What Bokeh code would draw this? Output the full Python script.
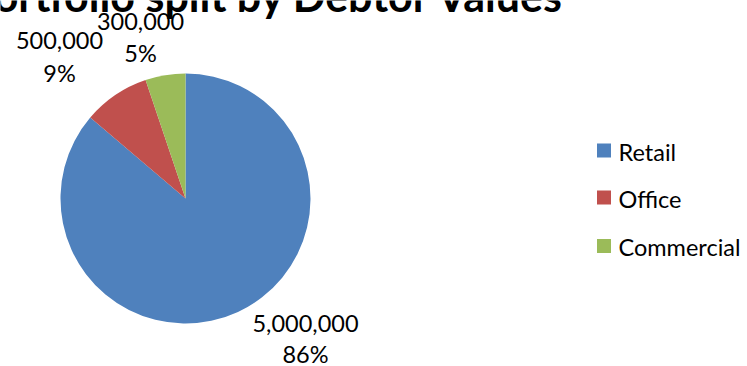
import math
from bokeh.plotting import figure
from bokeh.models import Range1d, ColumnDataSource
from bokeh.core.properties import value
from bokeh.embed import file_html
from bokeh.resources import INLINE

# ---- data ----
categories = ["Retail", "Office", "Commercial"]
amounts = [5000000, 500000, 300000]
colors = ["#4F81BD", "#C0504D", "#9BBB59"]
title_text = "Portfolio split by Debtor Values"

W, H = 747, 366
FONT = "Lato"
FS = "23.5px"

p = figure(width=W, height=H, output_backend="svg", toolbar_location=None,
           x_range=Range1d(0, W), y_range=Range1d(0, H), min_border=0)
p.axis.visible = False
p.grid.visible = False
p.outline_line_color = None
p.background_fill_color = "white"
p.border_fill_color = "white"

# ---- pie ----
cx, cy, r = 185, H - 198, 125
total = sum(amounts)
fracs = [a / total for a in amounts]
starts, ends = [], []
cum = 0.0
for f in fracs:
    starts.append(math.pi / 2 - cum * 2 * math.pi)
    cum += f
    ends.append(math.pi / 2 - cum * 2 * math.pi)

src = ColumnDataSource(dict(cat=categories, amt=amounts, color=colors,
                            start=starts, end=ends))
p.wedge(x=cx, y=cy, radius=r, start_angle="start", end_angle="end",
        direction="clock", fill_color="color", line_color=None, source=src)

# ---- data labels ----
label_pos = [(305, 323, 353.5), (59, 40, 72.5), (140, 20.5, 52)]  # (center x, value line y, pct line y) px from top
vals = [f"{a:,}" for a in amounts]
pcts = [f"{round(100 * f)}%" for f in fracs]
lx = [lp[0] for lp in label_pos]
p.text(x=lx, y=[H - lp[1] for lp in label_pos], text=vals,
       text_font=value(FONT), text_font_size=FS, text_color="black",
       text_align="center", text_baseline="middle")
p.text(x=lx, y=[H - lp[2] for lp in label_pos], text=pcts,
       text_font=value(FONT), text_font_size=FS, text_color="black",
       text_align="center", text_baseline="middle")

# ---- legend ----
leg_y = [H - 150, H - 197, H - 245.5]
p.scatter(x=[603.5] * 3, y=leg_y, marker="square", size=14, fill_color=colors,
          line_color=None)
p.text(x=[618] * 3, y=[v - 1 for v in leg_y], text=categories, text_font=value(FONT),
       text_font_size=FS, text_color="black", text_align="left",
       text_baseline="middle")

# ---- title (cut off at top, as in the reference) ----
p.text(x=[565], y=[H + 5], text=[title_text], text_font=value(FONT),
       text_font_size="43px", text_font_style="bold", text_color="black",
       text_align="right", text_baseline="alphabetic")

open("out.html", "w").write(file_html(p, INLINE))
